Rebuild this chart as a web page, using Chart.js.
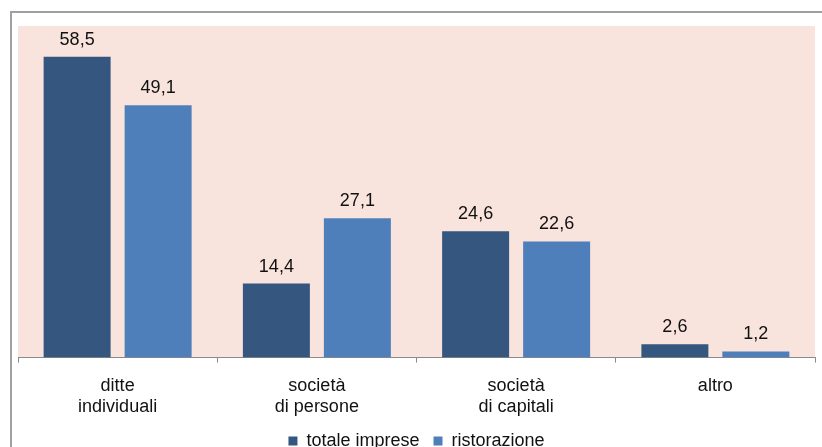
<!DOCTYPE html>
<html lang="it">
<head>
<meta charset="utf-8">
<title>Forma giuridica</title>
<script src="https://cdn.jsdelivr.net/npm/chart.js@4/dist/chart.umd.min.js"></script>
<style>
	html, body { margin: 0; padding: 0; background: #fff; overflow: hidden; }
	#cornice {
		position: absolute; left: 10px; top: 11px; width: 900px; height: 500px;
		border-top: 2px solid #a0a0a0; border-left: 2px solid #a0a0a0;
	}
	#chartForme { position: absolute; left: 0; top: 0; }
</style>
</head>
<body>
<div id="cornice"></div>
<canvas id="chartForme" width="822" height="460"></canvas>
<script>
// Dati: composizione % per forma giuridica
const categorie = [
	['ditte', 'individuali'],
	['società', 'di persone'],
	['società', 'di capitali'],
	['altro']
];
const totaleImprese = [58.5, 14.4, 24.6, 2.6];
const ristorazione = [49.1, 27.1, 22.6, 1.2];

const FONT = 'Liberation Sans, Arial, sans-serif';

// sfondo rosa dell'area del grafico
const sfondoArea = {
	id: 'sfondoArea',
	beforeDraw(chart) {
		const { ctx, chartArea: a } = chart;
		ctx.save();
		ctx.fillStyle = '#f8e3dd';
		ctx.fillRect(a.left, a.top, a.right - a.left, a.bottom - a.top);
		ctx.restore();
	}
};

// etichette con il valore sopra ogni barra
const etichetteValori = {
	id: 'etichetteValori',
	afterDatasetsDraw(chart) {
		const ctx = chart.ctx;
		ctx.save();
		ctx.font = '18px ' + FONT;
		ctx.fillStyle = '#111';
		ctx.textAlign = 'center';
		ctx.textBaseline = 'alphabetic';
		chart.data.datasets.forEach((ds, i) => {
			chart.getDatasetMeta(i).data.forEach((bar, j) => {
				const testo = ds.data[j].toFixed(1).replace('.', ',');
				ctx.fillText(testo, bar.x, bar.y - 12);
			});
		});
		ctx.restore();
	}
};

const chartForme = new Chart(
	document.getElementById('chartForme'),
	{
		type: 'bar',
		data: {
			labels: categorie,
			datasets: [{
				label: 'totale imprese',
				backgroundColor: '#35567e',
				data: totaleImprese,
			}, {
				label: 'ristorazione',
				backgroundColor: '#4f7fbb',
				data: ristorazione,
			}]
		},
		options: {
			responsive: false,
			animation: false,
			devicePixelRatio: 1,
			categoryPercentage: 0.813,
			barPercentage: 0.827,
			layout: {
				padding: { left: 18, right: 7, top: 26, bottom: 0 }
			},
			plugins: {
				legend: {
					position: 'bottom',
					labels: {
						font: { family: FONT, size: 18 },
						color: '#111',
						boxWidth: 9,
						boxHeight: 9,
						padding: 14
					}
				},
				tooltip: { enabled: false }
			},
			scales: {
				x: {
					// toglie un po' di spazio sotto le etichette
					afterFit: (scale) => { scale.height -= 12; },
					grid: {
						drawOnChartArea: false,
						drawTicks: true,
						tickLength: 5,
						color: '#8a8a8a'
					},
					border: { display: true, color: '#8a8a8a' },
					ticks: {
						padding: 13,
						color: '#111',
						font: { family: FONT, size: 18, lineHeight: 1.15 }
					}
				},
				y: {
					display: false,
					min: 0,
					max: 64.5
				}
			}
		},
		plugins: [sfondoArea, etichetteValori]
	}
);
</script>
</body>
</html>
